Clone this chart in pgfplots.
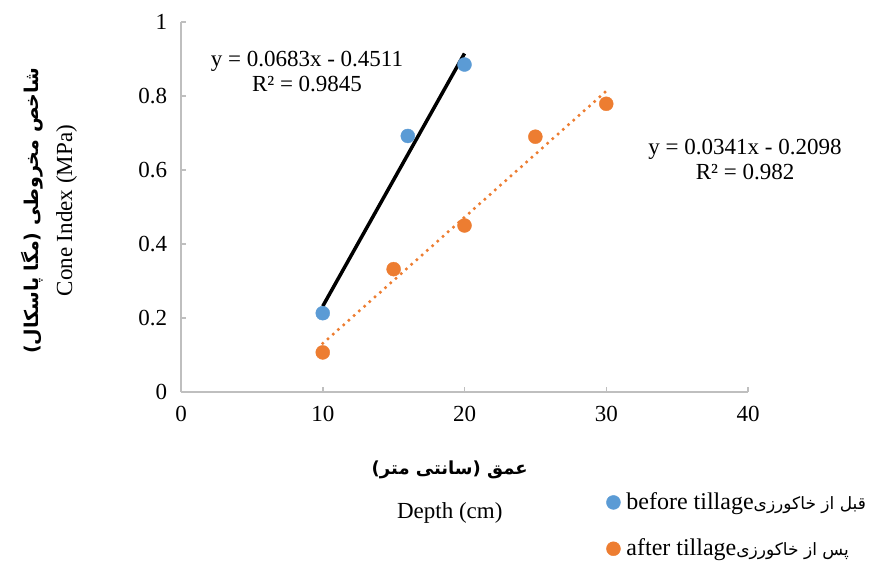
\documentclass[border=0pt]{standalone}
\usepackage{fontspec}
\setmainfont{Liberation Serif}
\newfontfamily\arabicfont[Script=Arabic]{DejaVu Sans}
\TeXXeTstate=1
\usepackage{pgfplots}
\pgfplotsset{compat=1.18}
\definecolor{cblue}{HTML}{5B9BD5}
\definecolor{corange}{HTML}{ED7D31}
\definecolor{cgrid}{HTML}{BFBFBF}
\begin{document}
\fontsize{23bp}{28bp}\selectfont
\begin{tikzpicture}
\path[use as bounding box] (0,0) rectangle (880bp,571bp);
\begin{axis}[
  at={(181bp,179bp)}, anchor=south west,
  scale only axis, width=567bp, height=370bp,
  xmin=0, xmax=40, ymin=0, ymax=1,
  xtick={0,10,20,30,40}, ytick={0,0.2,0.4,0.6,0.8,1},
  axis lines=left, axis line style={cgrid, line width=1.5bp, -},
  tick style={cgrid, line width=1.5bp}, tick align=inside, major tick length=5bp,
  /pgf/number format/assume math mode=true,
  ticklabel style={font=\fontsize{23bp}{28bp}\selectfont},
  yticklabel style={xshift=-6bp},
  xticklabel style={yshift=-6bp},
  yticklabel style={/pgf/number format/fixed, /pgf/number format/precision=1},
  clip=false,
  xlabel={{\arabicfont\bfseries\fontsize{18bp}{22bp}\selectfont\beginR عمق (سانتی متر)\endR}\\[18bp]Depth (cm)},
  xlabel style={at={(rel axis cs:0.474,-0.27)}, anchor=center, align=center, font=\fontsize{23bp}{26bp}\selectfont},
  ylabel={{\arabicfont\bfseries\fontsize{19bp}{22bp}\selectfont\beginR شاخص مخروطی (مگا پاسکال)\endR}\\[8bp]Cone Index (MPa)},
  ylabel style={at={(rel axis cs:-0.233,0.49)}, anchor=center, align=center, font=\fontsize{23bp}{26bp}\selectfont},
  legend style={draw=none, fill=none, at={(rel axis cs:0.75,-0.265)}, anchor=north west,
     row sep=22bp, font=\fontsize{24bp}{28bp}\selectfont, inner sep=0pt,
     nodes={inner xsep=6bp}},
  legend cell align=left,
]
\addplot[only marks, mark=*, mark size=7bp, mark options={draw=cblue, fill=cblue}]
  coordinates {(10,0.213) (16,0.692) (20,0.885)};
\addlegendentry{before tillage{\arabicfont\fontsize{17bp}{20bp}\selectfont\beginR قبل از خاکورزی\endR}}
\addplot[only marks, mark=*, mark size=7bp, mark options={draw=corange, fill=corange}]
  coordinates {(10,0.107) (15,0.332) (20,0.450) (25,0.690) (30,0.779)};
\addlegendentry{after tillage{\arabicfont\fontsize{17bp}{20bp}\selectfont\beginR پس از خاکورزی\endR}}
\addplot[black, line width=3.5bp, forget plot] coordinates {(10,0.2319) (20,0.9149)};
\addplot[corange, line width=3.5bp, line cap=round, dash pattern=on 0bp off 7bp, forget plot]
  coordinates {(10,0.1312) (30,0.8132)};
\node[align=center, font=\fontsize{23bp}{25bp}\selectfont] at (axis cs:8.89,0.865) {y = 0.0683x - 0.4511\\R² = 0.9845};
\node[align=center, font=\fontsize{23bp}{25bp}\selectfont] at (axis cs:39.79,0.627) {y = 0.0341x - 0.2098\\R² = 0.982};
\end{axis}
\end{tikzpicture}
\end{document}
